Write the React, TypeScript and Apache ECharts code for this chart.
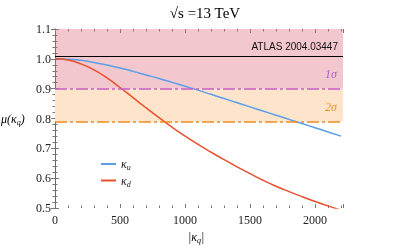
import React, { useEffect, useRef } from "react";
import * as echarts from "echarts";

const kappa = [0, 100, 200, 300, 400, 500, 600, 700, 800, 900, 1000, 1100, 1200, 1300, 1400, 1500, 1600, 1700, 1800, 1900, 2000, 2100, 2200];
const muU = [1.0, 0.999, 0.995, 0.988, 0.979, 0.969, 0.958, 0.946, 0.934, 0.921, 0.908, 0.895, 0.881, 0.867, 0.853, 0.839, 0.825, 0.811, 0.797, 0.783, 0.769, 0.755, 0.741];
const muD = [1.0, 0.996, 0.983, 0.963, 0.936, 0.904, 0.87, 0.836, 0.803, 0.771, 0.741, 0.713, 0.687, 0.662, 0.638, 0.615, 0.593, 0.573, 0.555, 0.538, 0.522, 0.507, 0.493];
const atlasCentral = 1.01;
const oneSigma = 0.9;
const twoSigma = 0.79;
const seriesNames = ["κu", "κd"];

const serif = "Liberation Serif";

export default function App() {
  const ref = useRef<HTMLDivElement>(null);
  useEffect(() => {
    const chart = echarts.init(ref.current!, null, { renderer: "svg" });
    const tickStyle = { color: "#777", width: 1 };
    const xBase = {
      type: "value" as const,
      min: 0,
      max: 2215,
      interval: 500,
      splitLine: { show: false },
      axisTick: { inside: true, length: 4, lineStyle: tickStyle },
      minorTick: { show: true, splitNumber: 5, length: 2.5, lineStyle: tickStyle },
    };
    const yBase = {
      type: "value" as const,
      min: 0.5,
      max: 1.1,
      interval: 0.1,
      splitLine: { show: false },
      axisTick: { inside: true, length: 4, lineStyle: tickStyle },
      minorTick: { show: true, splitNumber: 5, length: 2.5, lineStyle: tickStyle },
    };
    const sub = { fontFamily: serif, fontStyle: "italic", fontSize: 8, color: "#222", padding: [7, 0, 0, 0] };
    const main = { fontFamily: serif, fontStyle: "italic", fontSize: 12, color: "#222" };
    chart.setOption({
      animation: false,
      grid: { left: 55, right: 57, top: 29, bottom: 41 },
      title: {
        text: "√s =13 TeV",
        left: 200,
        textAlign: "center",
        top: 0,
        textStyle: { fontFamily: serif, fontSize: 15, fontWeight: "normal", color: "#000" },
      },
      legend: {
        data: seriesNames,
        orient: "vertical",
        left: 96,
        top: 153,
        itemGap: 3,
        itemWidth: 15,
        itemHeight: 2,
        icon: "rect",
        textStyle: {
          ...main,
          rich: { k: main, s: sub },
        },
        formatter: (n: string) => `{k|κ}{s|${n.slice(1)}}`,
      },
      xAxis: [
        {
          ...xBase,
          position: "bottom",
          axisLine: { show: false },
          axisLabel: {
            fontFamily: serif,
            fontSize: 12,
            color: "#222",
            margin: 6,
            showMaxLabel: false,
            formatter: (v: number) => (v % 500 === 0 ? String(v) : ""),
          },
        },
        {
          ...xBase,
          position: "top",
          axisLine: { show: false },
          axisLabel: { show: false },
        },
      ],
      yAxis: [
        {
          ...yBase,
          position: "left",
          axisLine: { show: false },
          axisLabel: { fontFamily: serif, fontSize: 12, color: "#222", margin: 4, formatter: (v: number) => v.toFixed(1) },
        },
        {
          ...yBase,
          position: "right",
          axisLine: { show: true, lineStyle: { color: "#666", width: 1 } },
          axisLabel: { show: false },
        },
      ],
      series: [
        {
          name: "bands-low",
          type: "line",
          data: [],
          z: 1,
          silent: true,
          markArea: {
            silent: true,
            itemStyle: { color: "#fde4cb" },
            data: [[{ yAxis: twoSigma }, { yAxis: oneSigma }]],
          },
        },
        {
          name: seriesNames[0],
          type: "line",
          data: kappa.map((k, i) => [k, muU[i]]),
          showSymbol: false,
          smooth: true,
          lineStyle: { color: "#5b9fe8", width: 1.5 },
          itemStyle: { color: "#5b9fe8" },
          z: 3,
        },
        {
          name: seriesNames[1],
          type: "line",
          data: kappa.map((k, i) => [k, muD[i]]),
          showSymbol: false,
          smooth: true,
          lineStyle: { color: "#e8502e", width: 1.5 },
          itemStyle: { color: "#e8502e" },
          z: 3,
        },
        {
          name: "bands-high",
          type: "line",
          data: [],
          z: 5,
          silent: true,
          markArea: {
            silent: true,
            itemStyle: { color: "rgba(222,100,120,0.36)" },
            data: [[{ yAxis: oneSigma }, { yAxis: 1.1 }]],
          },
          markLine: {
            silent: true,
            symbol: "none",
            label: { show: false },
            data: [
              { yAxis: atlasCentral, lineStyle: { color: "#000", width: 1.2, type: "solid" } },
              { yAxis: oneSigma, lineStyle: { color: "#c85cc8", width: 1.5, type: [12, 3, 3, 3] } },
              { yAxis: twoSigma, lineStyle: { color: "#f28a1c", width: 1.5, type: [12, 3, 3, 3] } },
            ],
          },
        },
      ],
      graphic: [
        {
          type: "text",
          x: 338,
          y: 41,
          style: { text: "ATLAS 2004.03447", fontFamily: "Liberation Sans", fontSize: 10, fill: "#111", align: "right" },
          z: 10,
        },
        {
          type: "text",
          x: 337,
          y: 68,
          style: { text: "1σ", fontFamily: serif, fontStyle: "italic", fontSize: 12, fill: "#b05ad8", align: "right" },
          z: 10,
        },
        {
          type: "text",
          x: 337,
          y: 101,
          style: { text: "2σ", fontFamily: serif, fontStyle: "italic", fontSize: 12, fill: "#f28a1c", align: "right" },
          z: 10,
        },
        {
          type: "text",
          x: 1,
          y: 111,
          style: {
            text: "{m|μ(κ}{s|q}{m|)}",
            rich: { m: main, s: sub },
          },
        },
        {
          type: "text",
          x: 188,
          y: 229,
          style: {
            text: "{m||κ}{s|q}{m||}",
            rich: { m: main, s: sub },
          },
        },
      ],
    });
    return () => chart.dispose();
  }, []);
  return <div ref={ref} style={{ width: 400, height: 249, position: "fixed", left: 0, top: 0 }} />;
}
